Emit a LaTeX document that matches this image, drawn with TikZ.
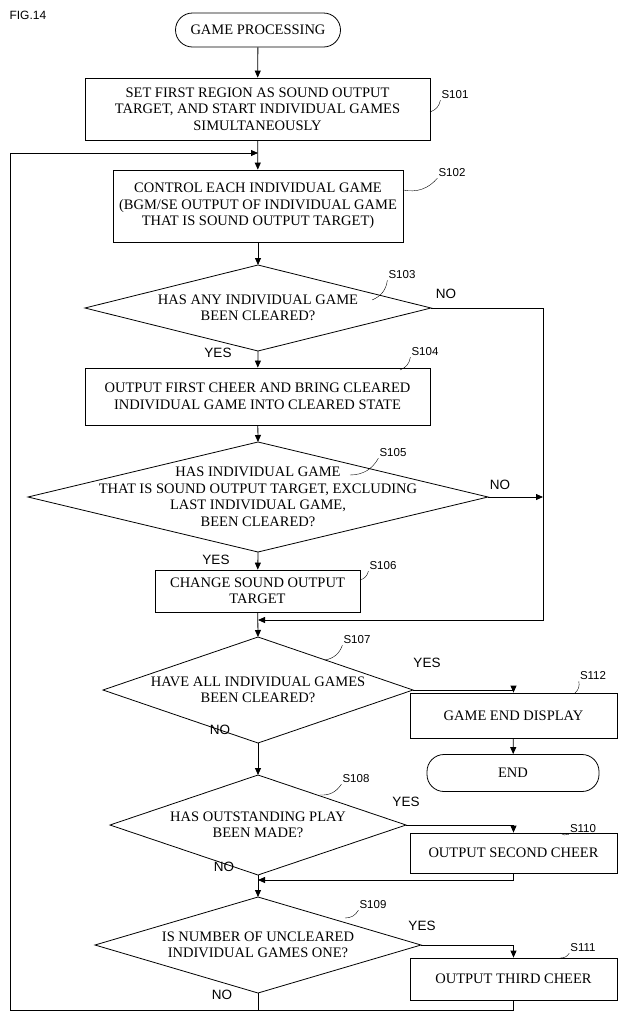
\documentclass[tikz,border=0pt]{standalone}
\usepackage{fontspec}
\setmainfont{Liberation Serif}
\setsansfont{Liberation Sans}
\usetikzlibrary{arrows.meta}
\tikzset{
  procbox/.style={draw, thick, align=center, inner sep=0pt, font=\fontsize{14.5}{16.5}\selectfont},
  term/.style={draw, thick, rounded corners=17pt, align=center, font=\fontsize{14.5}{16.5}\selectfont},
  qtext/.style={align=center, inner sep=0pt, font=\fontsize{14.5}{16.5}\selectfont},
  steplbl/.style={font=\fontsize{11.5}{13}\sffamily\selectfont, inner sep=1pt},
  yn/.style={font=\fontsize{13.5}{15}\sffamily\selectfont, inner sep=1pt},
  flow/.style={thick, -{Triangle[length=7pt,width=6pt]}},
  lead/.style={thin}
}
% box: name, x1, y1, x2, y2, text
\newcommand{\stepbox}[6]{\node[procbox, minimum width={#4-#2}, minimum height={#5-#3}] (#1) at ({(#2+#4)/2},{(#3+#5)/2}) {#6};}
% decision: name, cx, cy, half width, half height, text
\newcommand{\decision}[6]{
  \coordinate (#1-l) at ({#2-#4},#3); \coordinate (#1-r) at ({#2+#4},#3);
  \coordinate (#1-t) at (#2,{#3-#5}); \coordinate (#1-b) at (#2,{#3+#5});
  \draw[thick] (#1-l) -- (#1-t) -- (#1-r) -- (#1-b) -- cycle;
  \node[qtext] (#1) at (#2,#3) {#6};}

\begin{document}
\begin{tikzpicture}[x=1pt, y=-1pt]
        \useasboundingbox (0,0) rectangle (624,1018);
        \node[font=\fontsize{12}{14}\sffamily\selectfont, anchor=west] (fig) at (6,15) {FIG.14};

        % start
        \node[term, minimum width=165pt, minimum height=34pt] (start) at (258,30) {GAME PROCESSING};
        \stepbox{s101}{85}{78}{430}{140}{SET FIRST REGION AS SOUND OUTPUT\\TARGET, AND START INDIVIDUAL GAMES\\SIMULTANEOUSLY}
        \stepbox{s102}{113}{170}{403}{242}{CONTROL EACH INDIVIDUAL GAME\\(BGM/SE OUTPUT OF INDIVIDUAL GAME\\THAT IS SOUND OUTPUT TARGET)}
        \decision{s103}{258}{308}{173}{43}{HAS ANY INDIVIDUAL GAME\\BEEN CLEARED?}
        \stepbox{s104}{85}{368}{430}{425}{OUTPUT FIRST CHEER AND BRING CLEARED\\INDIVIDUAL GAME INTO CLEARED STATE}
        \decision{s105}{258}{497}{230}{55}{HAS INDIVIDUAL GAME\\THAT IS SOUND OUTPUT TARGET, EXCLUDING\\LAST INDIVIDUAL GAME,\\BEEN CLEARED?}
        \stepbox{s106}{155}{570}{360}{612}{CHANGE SOUND OUTPUT\\TARGET}
        \decision{s107}{258}{690}{155}{53}{HAVE ALL INDIVIDUAL GAMES\\BEEN CLEARED?}
        \stepbox{s112}{410}{693}{617}{738}{GAME END DISPLAY}
        \node[term, minimum width=172pt, minimum height=37pt] (end) at (513,773) {END};
        \decision{s108}{258}{825}{148}{50}{HAS OUTSTANDING PLAY\\BEEN MADE?}
        \stepbox{s110}{410}{833}{617}{873}{OUTPUT SECOND CHEER}
        \decision{s109}{258}{945}{163}{48}{IS NUMBER OF UNCLEARED\\INDIVIDUAL GAMES ONE?}
        \stepbox{s111}{410}{958}{617}{1000}{OUTPUT THIRD CHEER}

        % step labels
        \node[steplbl] (l101) at (455,95) {S101};
        \node[steplbl] (l102) at (452,173) {S102};
        \node[steplbl] (l103) at (402,275) {S103};
        \node[steplbl] (l104) at (425,352) {S104};
        \node[steplbl] (l105) at (393,453) {S105};
        \node[steplbl] (l106) at (383,566) {S106};
        \node[steplbl] (l107) at (357,640) {S107};
        \node[steplbl] (l112) at (593,676) {S112};
        \node[steplbl] (l108) at (356,779) {S108};
        \node[steplbl] (l110) at (583,829) {S110};
        \node[steplbl] (l109) at (373,905) {S109};
        \node[steplbl] (l111) at (583,948) {S111};
        \draw[lead] (430,112) to[bend right=30] (l101.south west);
        \draw[lead] (403,190) to[bend right=30] (l102.south west);
        \draw[lead] (372,300) to[bend right=30] (l103.south west);
        \draw[lead] (400,370) to[bend right=30] (l104.south west);
        \draw[lead] (350,475) to[bend right=30] (l105.south west);
        \draw[lead] (360,580) to[bend right=30] (l106.south west);
        \draw[lead] (325,660) to[bend right=30] (l107.south west);
        \draw[lead] (575,693) to[bend right=30] (l112.south west);
        \draw[lead] (320,795) to[bend right=30] (l108.south west);
        \draw[lead] (560,833) to[bend right=30] (l110.south west);
        \draw[lead] (345,918) to[bend right=30] (l109.south west);
        \draw[lead] (560,958) to[bend right=30] (l111.south west);

        % main flow
        \draw[flow] (start) -- (s101);
        \draw[flow] (s101) -- (s102);
        \draw[flow] (s102) -- (s103-t);
        \draw[flow] (s103-b) -- (s104);
        \draw[flow] (s104) -- (s105-t);
        \draw[flow] (s105-b) -- (s106);
        \coordinate (j1) at (258,620);
        \draw[flow] (s106) -- (s107-t);
        \draw[flow] (s107-b) -- (s108-t);
        \coordinate (j2) at (258,880);
        \draw[flow] (s108-b) -- (s109-t);

        % NO branches
        \coordinate (nr) at (543,308);
        \draw[thick] (s103-r) -- (nr);
        \draw[flow] (nr) |- (j1);
        \draw[flow] (s105-r) -- (543,497);
        \node[yn] (no103) at (446,294) {NO};
        \node[yn] (no105) at (500,485) {NO};
        \node[yn] (yes103) at (218,353) {YES};
        \node[yn] (yes105) at (216,560) {YES};

        % YES branches
        \draw[flow] (s107-r) -| (s112);
        \draw[flow] (s112) -- (end);
        \draw[flow] (s108-r) -| (s110);
        \draw[flow] (s110.south) |- (j2);
        \draw[flow] (s109-r) -| (s111);
        \node[yn] (yes107) at (427,663) {YES};
        \node[yn] (no107) at (220,730) {NO};
        \node[yn] (yes108) at (406,802) {YES};
        \node[yn] (no108) at (224,867) {NO};
        \node[yn] (yes109) at (422,926) {YES};
        \node[yn] (no109) at (222,995) {NO};

        % loop back
        \coordinate (lb) at (258,1010);
        \coordinate (lt) at (258,153);
        \draw[thick] (s109-b) -- (lb);
        \draw[thick] (s111.south) |- (lb);
        \draw[flow] (lb) -| (10,153) -- (lt);
\end{tikzpicture}
\end{document}
